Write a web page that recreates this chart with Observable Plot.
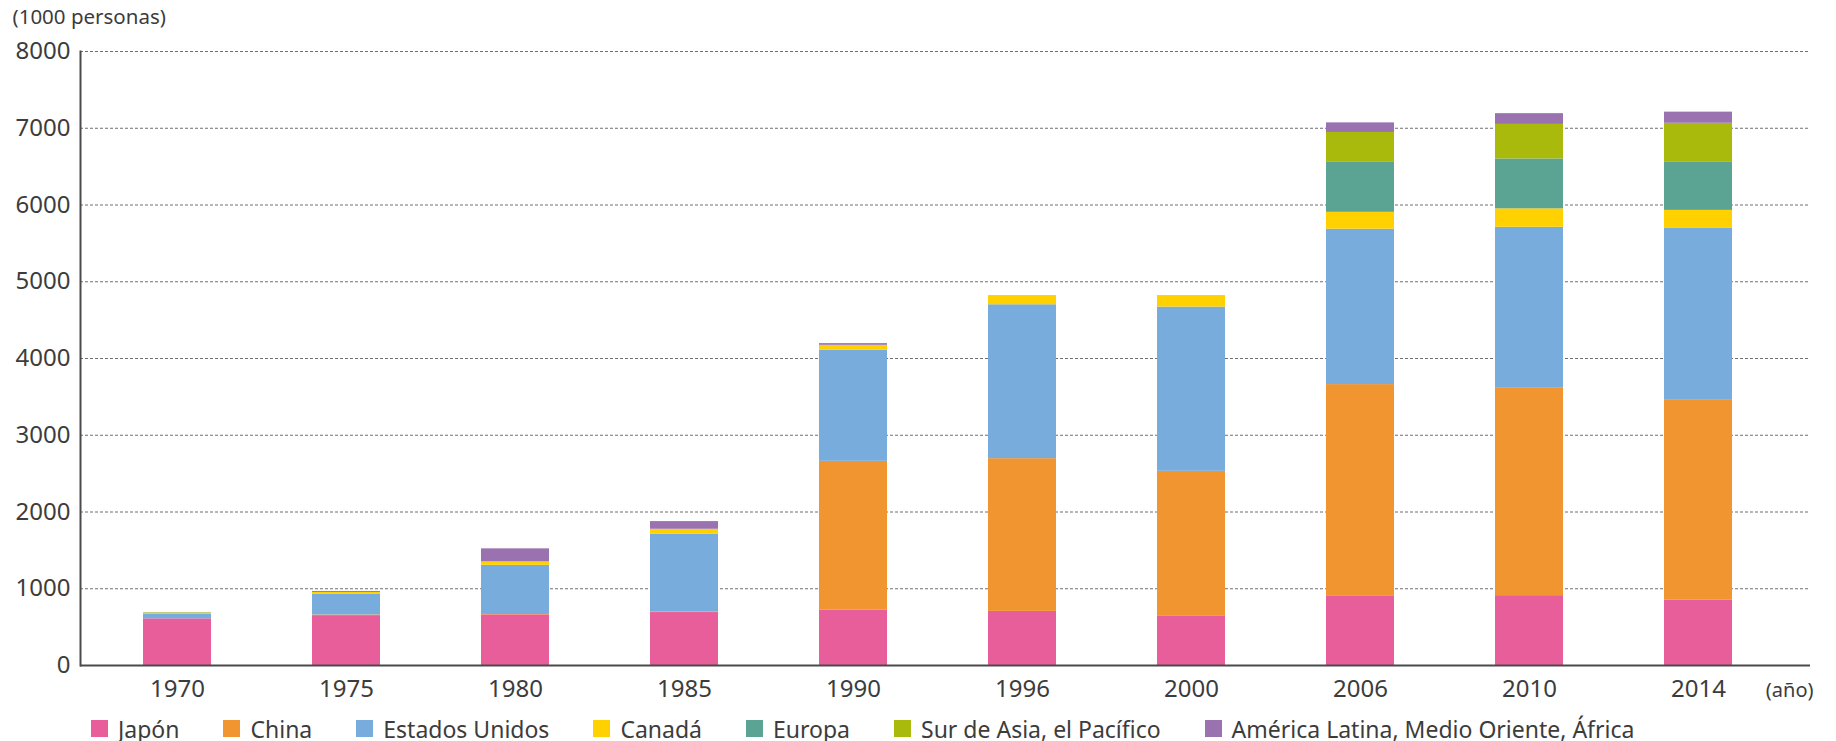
<!DOCTYPE html>
<html><head><meta charset="utf-8">
<script src="https://cdn.jsdelivr.net/npm/d3@7"></script>
<script src="https://cdn.jsdelivr.net/npm/@observablehq/plot@0.6"></script>
<style>
body{margin:0;background:#fff;font-family:"Noto Sans",sans-serif;}
#chart svg{display:block;}
#legend{padding-left:91px;margin-top:7px;height:30px;overflow:visible;}
#legend > div{font-family:"Noto Sans",sans-serif !important;font-size:23px !important;color:#3c3c3c !important;margin:0 !important;display:flex;align-items:center;white-space:nowrap;line-height:28px;flex-wrap:nowrap !important;}
#legend span{margin-right:44px !important;display:inline-flex;align-items:center;}
#legend span > svg{margin-right:10px !important;}
</style></head><body>
<div id="chart"></div><div id="legend"></div>
<script>
const years = ["1970","1975","1980","1985","1990","1996","2000","2006","2010","2014"];
const regions = ["Japón","China","Estados Unidos","Canadá","Europa","Sur de Asia, el Pacífico","América Latina, Medio Oriente, África"];
const colors = ["#E85E9B","#F09530","#78ACDC","#FFD100","#5BA393","#AABA0D","#9A72B0"];
const japon   = [608, 650, 660, 690, 720, 705, 640, 900, 910, 850];
const china   = [0, 8, 5, 5, 1940, 1990, 1890, 2760, 2710, 2605];
const eeuu    = [57, 268, 640, 1015, 1447, 2005, 2140, 2025, 2090, 2240];
const canada  = [20, 26, 45, 65, 65, 120, 150, 220, 240, 235];
const europa  = [5, 0, 5, 0, 0, 0, 0, 650, 650, 625];
const surAsia = [0, 0, 0, 0, 0, 0, 0, 390, 450, 510];
const america = [0, 13, 165, 100, 22, 0, 0, 125, 140, 145];
const yTicks = [0,1000,2000,3000,4000,5000,6000,7000,8000];
const yLabel = "(1000 personas)";
const xLabel = "(año)";

const series = [japon, china, eeuu, canada, europa, surAsia, america];
const data = [];
years.forEach((yr, i) => {
  regions.forEach((r, j) => data.push({year: yr, region: r, value: series[j][i]}));
});

const ink = "#3c3c3c";
const chart = Plot.plot({
  width: 1836,
  height: 705,
  marginTop: 51,
  marginBottom: 40,
  marginLeft: 80,
  marginRight: 26,
  style: {fontFamily: "'Noto Sans', sans-serif", color: ink, background: "#fff"},
  x: {type: "band", domain: years, paddingInner: 0.598, paddingOuter: 0.408, align: 0.446},
  y: {domain: [0, 8000]},
  color: {domain: regions, range: colors},
  marks: [
    Plot.gridY(yTicks.filter(d => d > 0), {stroke: "#6f6f6f", strokeOpacity: 1, strokeDasharray: "3,2", strokeWidth: 1}),
    Plot.barY(data, {x: "year", y: "value", fill: "region"}),
    Plot.ruleY([0], {stroke: "#4a4a4a", strokeWidth: 2}),
    Plot.frame({anchor: "left", stroke: "#4a4a4a", strokeWidth: 2}),
    Plot.axisY(yTicks, {tickSize: 0, tickPadding: 10, fontSize: 24, fill: ink, tickFormat: d3.format("d"), label: null}),
    Plot.axisX({tickSize: 0, tickPadding: 14, fontSize: 24, fill: ink, label: null}),
    Plot.text([yLabel], {text: d => d, frameAnchor: "top-left", dx: -68, dy: -28, textAnchor: "start", lineAnchor: "bottom", fontSize: 20.5, fill: ink}),
    Plot.text([xLabel], {text: d => d, frameAnchor: "bottom-right", dx: 3, dy: 31, textAnchor: "end", lineAnchor: "bottom", fontSize: 20, fill: ink})
  ]
});
document.getElementById("chart").appendChild(chart);

const leg = Plot.legend({color: {type: "ordinal", domain: regions, range: colors}, swatchSize: 17, className: "leg"});
document.getElementById("legend").appendChild(leg);
</script>
</body></html>
